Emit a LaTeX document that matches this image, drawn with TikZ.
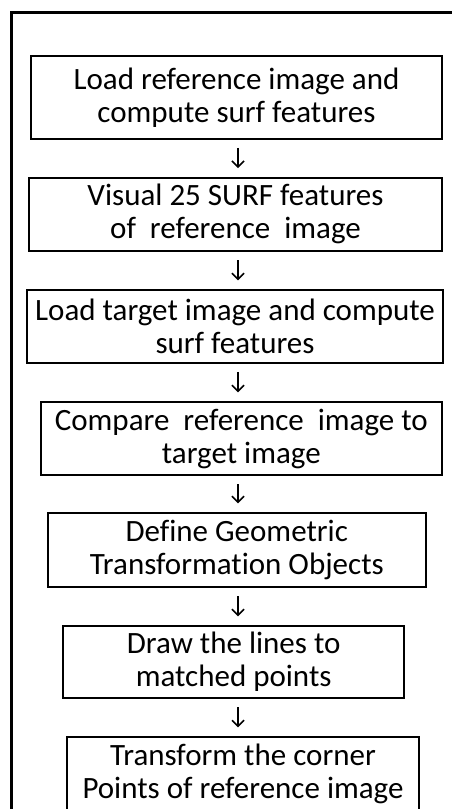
\documentclass[tikz,border=0pt]{standalone}
\usepackage{fontspec}
\setmainfont{Carlito}[Ligatures=NoCommon]
\usetikzlibrary{arrows.meta}
\tikzset{
  stepbox/.style={draw, line width=2pt, inner sep=0pt, align=center,
    font=\fontsize{31}{33}\selectfont, anchor=center},
  flow/.style={line width=1.5pt, -{Straight Barb[length=6pt,width=12pt,line width=1.5pt]},
    shorten <=8.3pt, shorten >=8.7pt},
  frame/.style={line width=2.5pt}
}
\begin{document}
\begin{tikzpicture}[x=1pt,y=-1pt]
\clip (0,0) rectangle (452,809);
\fill[white] (0,0) rectangle (452,809);
\coordinate (fa) at (11.7,830);
\coordinate (fb) at (470,12.5);
\draw[frame] (fa) |- (fb);
\coordinate (ax) at (238,0);
\node[stepbox, minimum width=411pt, minimum height=82.7pt] (b1) at (236.5,97.3)
  {Load reference image and\\compute surf features};
\node[stepbox, minimum width=413pt, minimum height=73pt] (b2) at (235.5,214.2)
  {Visual 25 SURF features\\of\ \ reference\ \ image};
\node[stepbox, minimum width=416pt, minimum height=72.7pt] (b3) at (235,326.3)
  {Load target image and compute\\surf features};
\node[stepbox, minimum width=401.3pt, minimum height=73pt] (b4) at (241.3,438.5)
  {Compare\ \ reference\ \ image to\\target image};
\node[stepbox, minimum width=378.3pt, minimum height=74pt] (b5) at (236.8,550)
  {Define Geometric\\Transformation Objects};
\node[stepbox, minimum width=340.7pt, minimum height=72pt] (b6) at (233.7,662)
  {Draw the lines to\\matched points};
\node[stepbox, minimum width=352pt, minimum height=73pt] (b7) at (243,773.5)
  {Transform the corner\\Points of reference image};
\draw[flow] (b1.south -| ax) -- (b2.north -| ax);
\draw[flow] (b2.south -| ax) -- (b3.north -| ax);
\draw[flow] (b3.south -| ax) -- (b4.north -| ax);
\draw[flow] (b4.south -| ax) -- (b5.north -| ax);
\draw[flow] (b5.south -| ax) -- (b6.north -| ax);
\draw[flow] (b6.south -| ax) -- (b7.north -| ax);
\end{tikzpicture}
\end{document}
